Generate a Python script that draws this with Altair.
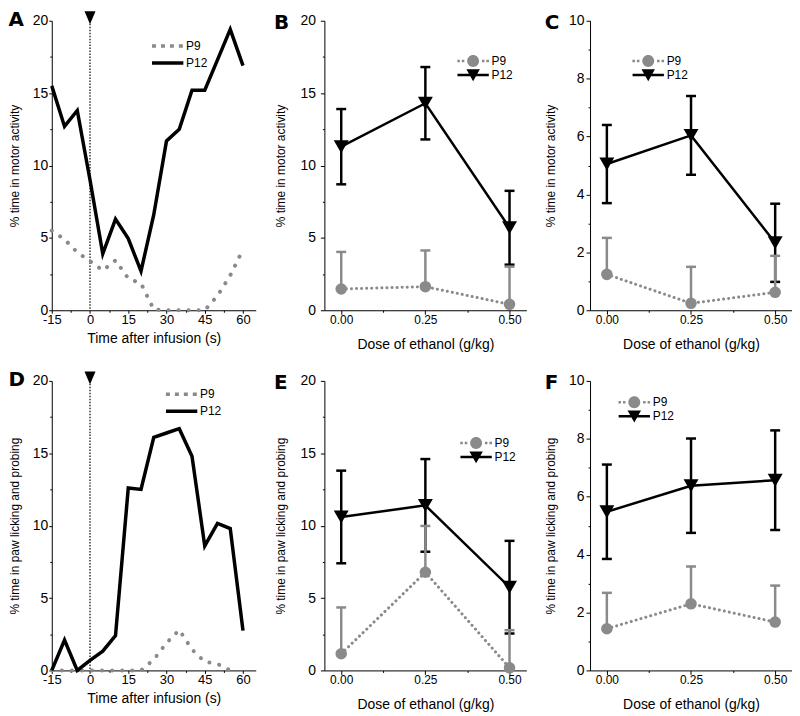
import altair as alt
import pandas as pd

# ------------------------------------------------------------------ data
SERIES = ["P9", "P12"]

TIME_S = [-15, -10, -5, 0, 5, 10, 15, 20, 25, 30, 35, 40, 45, 50, 55, 60]
A_P9 = [5.5, 4.9, 4.0, 3.4, 2.75, 3.45, 2.2, 1.85, 0.05, 0.0, 0.0, 0.0, 0.0, 1.0, 2.4, 4.2]
A_P12 = [15.5, 12.7, 13.8, 9.0, 3.9, 6.3, 4.95, 2.7, 6.6, 11.7, 12.5, 15.2, 15.2, 17.3, 19.4, 16.9]
D_P9 = [0.0, 0.0, 0.0, 0.0, 0.0, 0.0, 0.0, 0.0, 0.75, 1.9, 2.8, 1.45, 0.6, 0.45, 0.0, None]
D_P12 = [0.0, 2.1, 0.0, 0.7, 1.33, 2.4, 12.6, 12.5, 16.1, 16.4, 16.7, 14.8, 8.6, 10.15, 9.8, 2.75]

INFUSION_TIME = [0]
INFUSION_LEVEL = [20]

DOSE = [0.0, 0.25, 0.5]
B_P9_MEAN = [1.47, 1.63, 0.41]
B_P9_SEM = [2.56, 2.5, 2.6]
B_P12_MEAN = [11.3, 14.3, 5.7]
B_P12_SEM = [2.6, 2.5, 2.55]

C_P9_MEAN = [1.24, 0.24, 0.62]
C_P9_SEM = [1.26, 1.26, 1.26]
C_P12_MEAN = [5.05, 6.04, 2.33]
C_P12_SEM = [1.35, 1.36, 1.35]

E_P9_MEAN = [1.15, 6.78, 0.18]
E_P9_SEM = [3.2, 3.2, 2.6]
E_P12_MEAN = [10.6, 11.4, 5.75]
E_P12_SEM = [3.2, 3.2, 3.2]

F_P9_MEAN = [1.44, 2.3, 1.67]
F_P9_SEM = [1.24, 1.29, 1.26]
F_P12_MEAN = [5.48, 6.38, 6.57]
F_P12_SEM = [1.63, 1.63, 1.72]

TIME_TICKS = [-15, -7.5, 0, 7.5, 15, 22.5, 30, 37.5, 45, 52.5, 60]
DOSE_TICKS = [0, 0.125, 0.25, 0.375, 0.5]
Y20_TICKS = [0, 2.5, 5, 7.5, 10, 12.5, 15, 17.5, 20]
Y10_TICKS = [0, 1, 2, 3, 4, 5, 6, 7, 8, 9, 10]

# ------------------------------------------------------------------ style
FONT = "Liberation Sans"
LETTER_FONT = "DejaVu Sans"
GRAY = "#8a8a8a"
STUB = "M-2.1,0H2.1"
RECT_STUB = "M-2.1,-0.17H2.1V0.17H-2.1Z"
TRI_ONLY = "M-0.9,-0.75H0.9L0,0.85Z"


def _sq(cx, r):
    return f"M{cx - r:.2f},{-r:.2f}h{2 * r:.2f}v{2 * r:.2f}h{-2 * r:.2f}Z"


_K = 0.44
CIRCLE = ("M0.8,0C0.8,{k} {k},0.8 0,0.8C-{k},0.8 -0.8,{k} -0.8,0"
          "C-0.8,-{k} -{k},-0.8 0,-0.8C{k},-0.8 0.8,-{k} 0.8,0Z").format(k=_K)
P9_KEY = _sq(-1.95, 0.17) + _sq(-1.35, 0.17) + _sq(1.35, 0.17) + _sq(1.95, 0.17) + CIRCLE
P12_KEY = RECT_STUB + TRI_ONLY

LEGEND_CHANNELS = dict(color="independent", shape="independent",
                       stroke="independent", strokeDash="independent")


def make_axis(title, values, major_test, label_expr, label_size, title_size,
              title_padding, label_padding, major=4, minor=2):
    return alt.Axis(
        title=title, values=values, labelExpr=label_expr,
        labelFontSize=label_size, titleFontSize=title_size, titlePadding=title_padding,
        labelFont=FONT, titleFont=FONT, titleFontWeight="normal",
        labelColor="black", titleColor="black", domainColor="black", tickColor="black",
        grid=False, labelFlush=False, labelOverlap=False, labelPadding=label_padding,
        tickSize={"condition": {"test": major_test, "value": major}, "value": minor},
    )


def legend(lx, ly, sw, offset):
    return alt.Legend(
        title=None, orient="none", legendX=lx, legendY=ly, padding=0,
        symbolSize=225, symbolStrokeWidth=sw, labelOffset=offset,
        labelFont=FONT, labelFontSize=12, labelColor="black", rowPadding=0,
    )


def panel_title(letter):
    return alt.TitleParams(
        text=letter, anchor="start", frame="bounds", orient="top",
        fontSize=20, fontWeight="bold", font=LETTER_FONT, color="black",
        baseline="alphabetic", offset=-35,
    )


def time_panel(letter, p9, p12, ytitle, lx, ly):
    rows = []
    for s, vals in (("P9", p9), ("P12", p12)):
        for t, v in zip(TIME_S, vals):
            if v is not None:
                rows.append({"t": t, "v": v, "s": s})
    df = pd.DataFrame(rows)
    xaxis = make_axis("Time after infusion (s)", TIME_TICKS, "datum.value % 15 === 0",
                      "datum.value % 15 === 0 ? '' + datum.value : ''", 13, 14, 5, 0, 3, 2)
    yaxis = make_axis(ytitle, Y20_TICKS, "datum.value % 5 === 0",
                      "datum.value % 5 === 0 ? '' + datum.value : ''", 14, 12, 11, 1, 3, 2)
    xs = alt.Scale(domain=[-15, 65], nice=False, zero=False)
    ys = alt.Scale(domain=[0, 20], nice=False)
    x = alt.X("t:Q", scale=xs, axis=xaxis)
    y = alt.Y("v:Q", scale=ys, axis=yaxis)

    base = alt.Chart(df)
    line9 = base.transform_filter("datum.s === 'P9'").mark_line(
        color=GRAY, strokeWidth=4, strokeDash=[0.1, 10], strokeCap="round").encode(x=x, y=y)
    line12 = base.transform_filter("datum.s === 'P12'").mark_line(
        color="black", strokeWidth=3.5).encode(x=x, y=y)
    lg = legend(lx, ly, 3.5, 9)
    key = base.transform_filter("false").mark_point(filled=False, size=225, opacity=1).encode(
        x=x, y=y,
        shape=alt.Shape("s:N", scale=alt.Scale(domain=SERIES, range=[STUB, STUB]), legend=lg),
        stroke=alt.Stroke("s:N", scale=alt.Scale(domain=SERIES, range=[GRAY, "black"]), legend=lg),
        strokeDash=alt.StrokeDash("s:N", scale=alt.Scale(domain=SERIES, range=[[4, 5], [1, 0]]),
                                  legend=lg),
    )
    inf = pd.DataFrame({"t": INFUSION_TIME, "v": INFUSION_LEVEL})
    vline = alt.Chart(inf).mark_rule(color="black", strokeWidth=1.2, strokeDash=[1.5, 1.5]).encode(x=x)
    tri = alt.Chart(inf).mark_point(shape="M-0.85,-1L0.85,-1L0,1Z", size=169, filled=True,
                                    color="black", opacity=1, yOffset=-3).encode(x=x, y=y)
    return alt.layer(vline, line9, line12, tri, key).properties(
        width=205, height=291, title=panel_title(letter))


def dose_panel(letter, p9m, p9s, p12m, p12s, ymax, ytitle, lx, ly, ytp, ylp):
    rows = []
    for s, ms, es in (("P9", p9m, p9s), ("P12", p12m, p12s)):
        for d, m, e in zip(DOSE, ms, es):
            lo = m if s == "P9" else m - e
            rows.append({"d": d, "m": m, "lo": lo, "hi": m + e, "s": s})
    df = pd.DataFrame(rows)
    xaxis = make_axis("Dose of ethanol (g/kg)", DOSE_TICKS, "(datum.value * 8) % 2 === 0",
                      "(datum.value * 8) % 2 === 0 ? format(datum.value, '.2f') : ''",
                      12, 14, 12, 0, 4, 2)
    if ymax == 20:
        yaxis = make_axis(ytitle, Y20_TICKS, "datum.value % 5 === 0",
                          "datum.value % 5 === 0 ? '' + datum.value : ''", 14, 12, ytp, ylp)
    else:
        yaxis = make_axis(ytitle, Y10_TICKS, "datum.value % 2 === 0",
                          "datum.value % 2 === 0 ? '' + datum.value : ''", 14, 12, ytp, ylp)
    xs = alt.Scale(domain=[-0.05, 0.55], nice=False, zero=False)
    ys = alt.Scale(domain=[0, ymax], nice=False)
    x = alt.X("d:Q", scale=xs, axis=xaxis)

    def y(f):
        return alt.Y(f"{f}:Q", scale=ys, axis=yaxis)

    base = alt.Chart(df)
    p9 = base.transform_filter("datum.s === 'P9'")
    p12 = base.transform_filter("datum.s === 'P12'")

    line9 = p9.mark_line(color=GRAY, strokeWidth=3, strokeDash=[0.1, 5], strokeCap="round").encode(
        x=x, y=y("m"))
    line12 = p12.mark_line(color="black", strokeWidth=2.5).encode(x=x, y=y("m"))
    e12 = p12.mark_rule(color="black", strokeWidth=2.5).encode(x=x, y=y("lo"), y2="hi:Q")
    c12a = p12.mark_tick(color="black", orient="horizontal", thickness=2.5, size=10,
                         opacity=1).encode(x=x, y=y("hi"))
    c12b = p12.mark_tick(color="black", orient="horizontal", thickness=2.5, size=10,
                         opacity=1).encode(x=x, y=y("lo"))
    e9 = p9.mark_rule(color=GRAY, strokeWidth=2.5).encode(x=x, y=y("lo"), y2="hi:Q")
    c9 = p9.mark_tick(color=GRAY, orient="horizontal", thickness=2.5, size=10,
                      opacity=1).encode(x=x, y=y("hi"))
    pt9 = p9.mark_point(shape="circle", filled=True, size=135, color=GRAY, opacity=1).encode(
        x=x, y=y("m"))
    pt12 = p12.mark_point(shape="triangle-down", filled=True, size=225, color="black",
                          opacity=1).encode(x=x, y=y("m"))

    lg = legend(lx, ly, 0, 11)
    key = base.transform_filter("false").mark_point(filled=True, size=225, opacity=1).encode(
        x=x, y=y("m"),
        shape=alt.Shape("s:N", scale=alt.Scale(domain=SERIES, range=[P9_KEY, P12_KEY]), legend=lg),
        color=alt.Color("s:N", scale=alt.Scale(domain=SERIES, range=[GRAY, "black"]), legend=lg))
    return alt.layer(line9, line12, e12, c12a, c12b, e9, c9, pt9, pt12, key).properties(
        width=203, height=291, title=panel_title(letter))


A = time_panel("A", A_P9, A_P12, "% time in motor activity", 107, 16)
B = dose_panel("B", B_P9_MEAN, B_P9_SEM, B_P12_MEAN, B_P12_SEM, 20,
               "% time in motor activity", 142, 33, 13, 5)
C = dose_panel("C", C_P9_MEAN, C_P9_SEM, C_P12_MEAN, C_P12_SEM, 10,
               "% time in motor activity", 51, 33, 11, 2)
D = time_panel("D", D_P9, D_P12, "% time in paw licking and probing", 121, 4)
E = dose_panel("E", E_P9_MEAN, E_P9_SEM, E_P12_MEAN, E_P12_SEM, 20,
               "% time in paw licking and probing", 145, 55, 13, 5)
F = dose_panel("F", F_P9_MEAN, F_P9_SEM, F_P12_MEAN, F_P12_SEM, 10,
               "% time in paw licking and probing", 37, 14, 11, 2)

row1 = alt.hconcat(A, B, C, spacing=18).resolve_scale(**LEGEND_CHANNELS)
row2 = alt.hconcat(D, E, F, spacing=18).resolve_scale(**LEGEND_CHANNELS)
chart = (
    alt.vconcat(row1, row2, spacing=19)
    .resolve_scale(**LEGEND_CHANNELS)
    .properties(padding=0)
    .configure_view(strokeWidth=0)
)

chart.save("out.html", embed_options={"renderer": "svg", "actions": False})
